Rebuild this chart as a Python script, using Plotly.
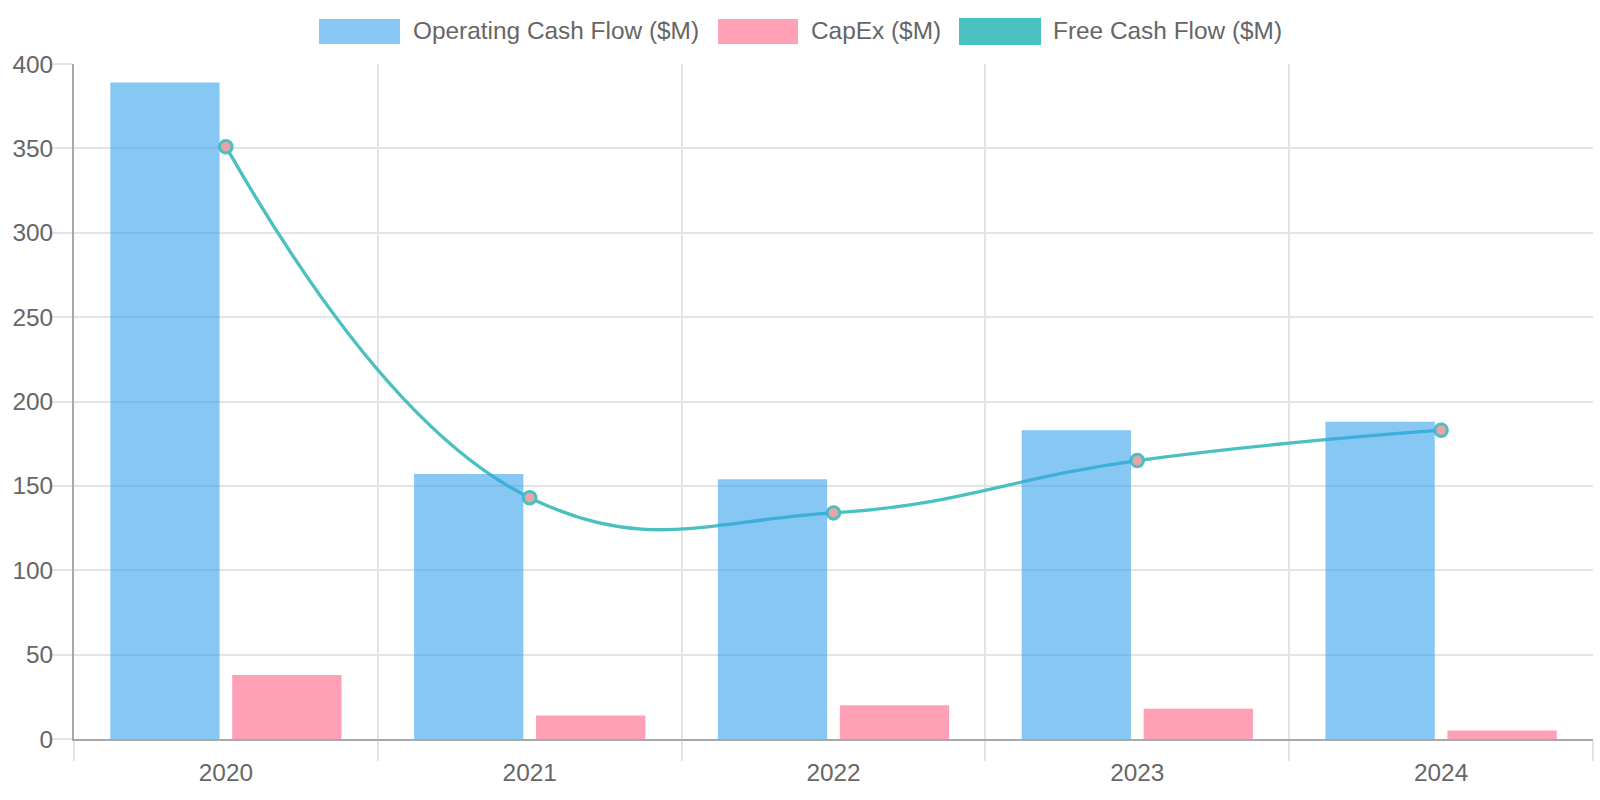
import plotly.graph_objects as go

years = ["2020", "2021", "2022", "2023", "2024"]
operating_cf = [389, 157, 154, 183, 188]
capex = [38, 14, 20, 18, 5]
free_cf = [351, 143, 134, 165, 183]
series_names = ["Operating Cash Flow ($M)", "CapEx ($M)", "Free Cash Flow ($M)"]

W, H = 1600, 800
ML, MR, MT, MB = 74, 7, 64, 61
PW, PH = W - ML - MR, H - MT - MB

def px(x):
    return (x - ML) / PW

def py(y):
    return (H - MB - y) / PH

FONT = "Liberation Sans, Arial, sans-serif"
FS = 24.4
TXT = "#666666"
GRID = "#e4e4e4"
AXIS = "#a9a9a9"

fig = go.Figure()

# Line first (base subplot) so bars overlay it
fig.add_trace(go.Scatter(
    x=years, y=free_cf, name=series_names[2], mode="lines+markers",
    line=dict(color="rgb(75,192,192)", width=3.3, shape="spline", smoothing=1.25),
    marker=dict(size=12.5, color="#EBA3A8", line=dict(color="rgb(75,192,192)", width=3)),
    xaxis="x", yaxis="y", showlegend=False,
))
fig.add_trace(go.Bar(
    x=years, y=operating_cf, name=series_names[0],
    marker=dict(color="rgba(54,162,235,0.6)", line=dict(width=0)),
    xaxis="x", yaxis="y2", showlegend=False,
))
fig.add_trace(go.Bar(
    x=years, y=capex, name=series_names[1],
    marker=dict(color="rgba(255,99,132,0.6)", line=dict(width=0)),
    xaxis="x", yaxis="y2", showlegend=False,
))

# Custom legend (Chart.js style wide boxes)
legend_items = [
    (series_names[0], "rgba(54,162,235,0.6)", 319, 400, 19, 44, 411),
    (series_names[1], "rgba(255,99,132,0.6)", 718, 798, 19, 44, 809),
    (series_names[2], "rgb(75,192,192)", 959, 1041, 18, 45, 1051),
]
shapes = []
annotations = []
for name, fill, x0, x1, y0, y1, tx in legend_items:
    shapes.append(dict(type="rect", xref="paper", yref="paper",
                       x0=px(x0), x1=px(x1), y0=py(y1), y1=py(y0),
                       fillcolor=fill, line=dict(width=0), layer="above"))
    annotations.append(dict(text=name, xref="paper", yref="paper",
                            x=px(tx), y=py(31), xanchor="left", yanchor="middle",
                            showarrow=False, font=dict(family=FONT, size=FS, color=TXT)))

fig.update_layout(
    width=W, height=H,
    margin=dict(l=ML, r=MR, t=MT, b=MB, pad=0),
    paper_bgcolor="white", plot_bgcolor="white",
    barmode="group", bargap=0.197, bargroupgap=0.104,
    font=dict(family=FONT, size=FS, color=TXT),
    showlegend=False,
    shapes=shapes, annotations=annotations,
    xaxis=dict(
        type="category", range=[-0.5, 4.5], tickson="boundaries",
        showgrid=True, gridcolor=GRID, gridwidth=1.5,
        ticks="outside", ticklen=20, tickcolor=GRID, tickwidth=1.5,
        showline=True, linecolor=AXIS, linewidth=2, mirror=False,
        ticklabelstandoff=11,
        tickfont=dict(family=FONT, size=FS, color=TXT), zeroline=False,
    ),
    yaxis=dict(
        range=[0, 400], dtick=50, tick0=0,
        showgrid=True, gridcolor=GRID, gridwidth=1.5,
        ticks="outside", ticklen=20, tickcolor=GRID, tickwidth=1.5,
        showline=True, linecolor=AXIS, linewidth=2,
        ticklabelstandoff=-6,
        tickfont=dict(family=FONT, size=FS, color=TXT), zeroline=False,
    ),
    yaxis2=dict(
        range=[0, 400], overlaying="y", visible=False, showgrid=False, zeroline=False,
    ),
)

fig.write_html("out.html", config={"displayModeBar": False},
               post_script="document.body.style.margin='0';document.body.style.padding='0';")
